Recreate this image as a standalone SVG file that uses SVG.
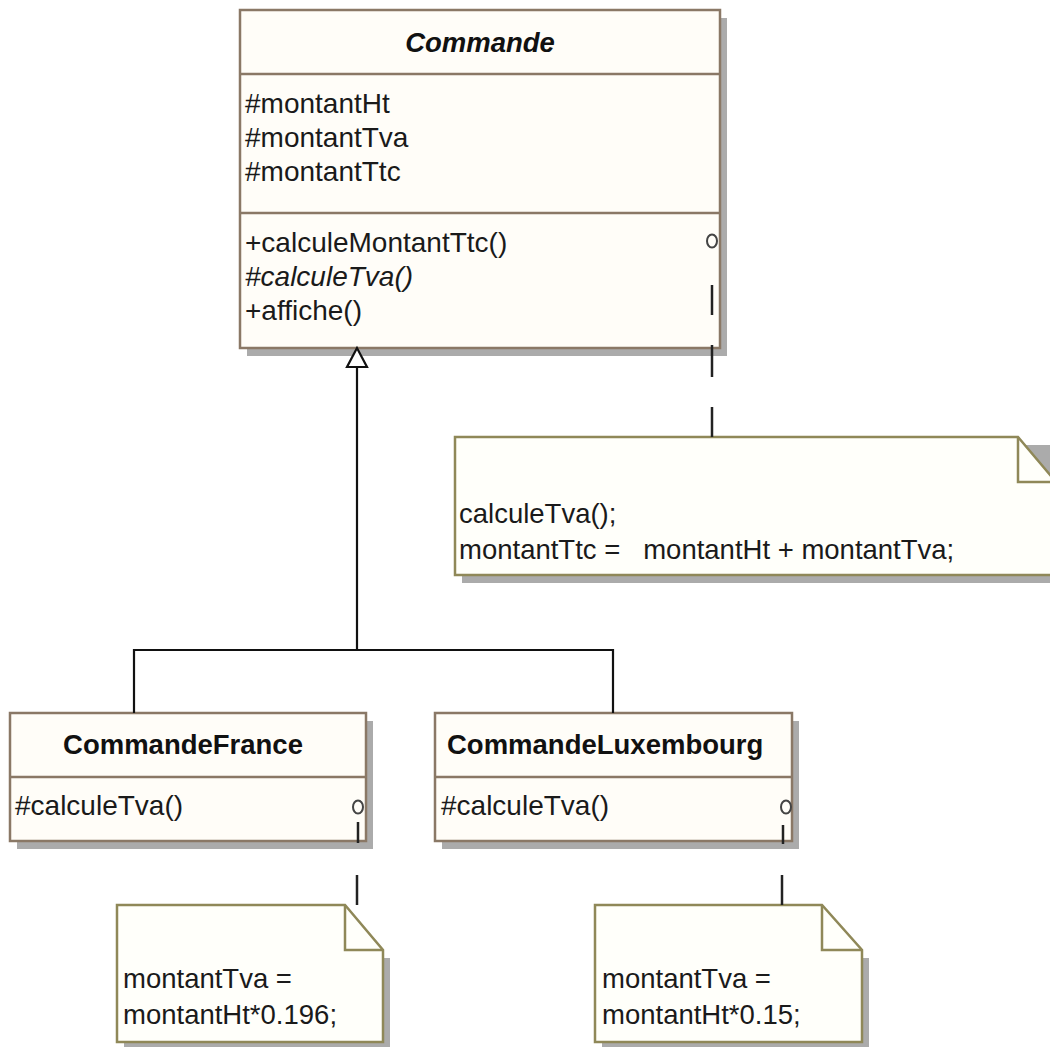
<svg xmlns="http://www.w3.org/2000/svg" width="1050" height="1047" viewBox="0 0 1050 1047">
  <style>
    .shadow { fill: #ababab; }
    .box { fill: #fffdf8; stroke: #8a7866; stroke-width: 2.5; }
    .sep { stroke: #8a7866; stroke-width: 2.5; }
    .note { fill: #fffffa; stroke: #8f8858; stroke-width: 2.5; }
    .fold { fill: none; stroke: #8f8858; stroke-width: 2.5; }
    .title { font-family: "Liberation Sans", Arial, sans-serif; font-size: 27.5px; font-weight: bold; fill: #111; }
    .member { font-family: "Liberation Sans", Arial, sans-serif; font-size: 28px; fill: #1a1a1a; }
    .notetext { font-family: "Liberation Sans", Arial, sans-serif; font-size: 27.5px; fill: #1a1a1a; white-space: pre; }
    .link { fill: none; stroke: #111; stroke-width: 2.2; }
    .anchor { fill: none; stroke: #444; stroke-width: 2; }
    .dash { stroke: #222; stroke-width: 2.5; }
  </style>

  <!-- abstract class Commande -->
  <g id="commande">
    <rect class="shadow" x="247" y="18" width="480" height="338"/>
    <rect class="box" x="240" y="10" width="480" height="338"/>
    <line class="sep" x1="240" y1="74" x2="720" y2="74"/>
    <line class="sep" x1="240" y1="213" x2="720" y2="213"/>
    <text class="title" x="480" y="52" text-anchor="middle" font-style="italic">Commande</text>
    <text class="member" x="245" y="113">#montantHt</text>
    <text class="member" x="245" y="147">#montantTva</text>
    <text class="member" x="245" y="181">#montantTtc</text>
    <text class="member" x="245" y="252">+calculeMontantTtc()</text>
    <text class="member" x="245" y="286" font-style="italic">#calculeTva()</text>
    <text class="member" x="245" y="320">+affiche()</text>
  </g>

  <!-- subclass CommandeFrance -->
  <g id="commande-france">
    <rect class="shadow" x="17" y="721" width="356" height="128"/>
    <rect class="box" x="10" y="713" width="356" height="128"/>
    <line class="sep" x1="10" y1="777" x2="366" y2="777"/>
    <text class="title" x="183" y="754" text-anchor="middle">CommandeFrance</text>
    <text class="member" x="15" y="815">#calculeTva()</text>
  </g>

  <!-- subclass CommandeLuxembourg -->
  <g id="commande-luxembourg">
    <rect class="shadow" x="442" y="721" width="357" height="128"/>
    <rect class="box" x="435" y="713" width="357" height="128"/>
    <line class="sep" x1="435" y1="777" x2="792" y2="777"/>
    <text class="title" x="447" y="754">CommandeLuxembourg</text>
    <text class="member" x="441" y="815">#calculeTva()</text>
  </g>

  <!-- note attached to calculeMontantTtc() -->
  <g id="note-commande">
    <polygon class="shadow" points="462,445 1063,445 1063,583 462,583"/>
    <polygon class="note" points="455,437 1018,437 1056,482 1056,575 455,575"/>
    <polyline class="fold" points="1018,437 1018,482 1056,482"/>
    <text class="notetext" x="459" y="523">calculeTva();</text>
    <text class="notetext" x="459" y="559">montantTtc =   montantHt + montantTva;</text>
  </g>

  <!-- note attached to CommandeFrance.calculeTva() -->
  <g id="note-france">
    <polygon class="shadow" points="124,958 390,958 390,1049 124,1049"/>
    <polygon class="note" points="117,905 345,905 383,950 383,1042 117,1042"/>
    <polyline class="fold" points="345,905 345,950 383,950"/>
    <text class="notetext" x="123" y="988">montantTva =</text>
    <text class="notetext" x="123" y="1024">montantHt*0.196;</text>
  </g>

  <!-- note attached to CommandeLuxembourg.calculeTva() -->
  <g id="note-luxembourg">
    <polygon class="shadow" points="602,958 869,958 869,1049 602,1049"/>
    <polygon class="note" points="595,905 822,905 862,950 862,1042 595,1042"/>
    <polyline class="fold" points="822,905 822,950 862,950"/>
    <text class="notetext" x="602" y="988">montantTva =</text>
    <text class="notetext" x="602" y="1024">montantHt*0.15;</text>
  </g>

  <!-- connectors -->
  <g id="connectors">
    <!-- generalization tree -->
    <polyline class="link" points="134,713 134,650 613,650 613,713"/>
    <line class="link" x1="357" y1="650" x2="357" y2="367"/>
    <polygon points="357,348 347,367 367,367" fill="#fff" stroke="#111" stroke-width="2.2"/>

    <!-- note anchors -->
    <ellipse class="anchor" cx="712" cy="241" rx="5" ry="6.5"/>
    <line class="dash" x1="712" y1="285" x2="712" y2="315"/>
    <line class="dash" x1="712" y1="345" x2="712" y2="377"/>
    <line class="dash" x1="712" y1="407" x2="712" y2="437"/>

    <ellipse class="anchor" cx="358" cy="807" rx="5" ry="6.5"/>
    <line class="dash" x1="358" y1="822" x2="358" y2="843"/>
    <line class="dash" x1="357" y1="875" x2="357" y2="905"/>

    <ellipse class="anchor" cx="786" cy="807" rx="5" ry="6.5"/>
    <line class="dash" x1="783" y1="825" x2="783" y2="844"/>
    <line class="dash" x1="782" y1="875" x2="782" y2="905"/>
  </g>
</svg>
